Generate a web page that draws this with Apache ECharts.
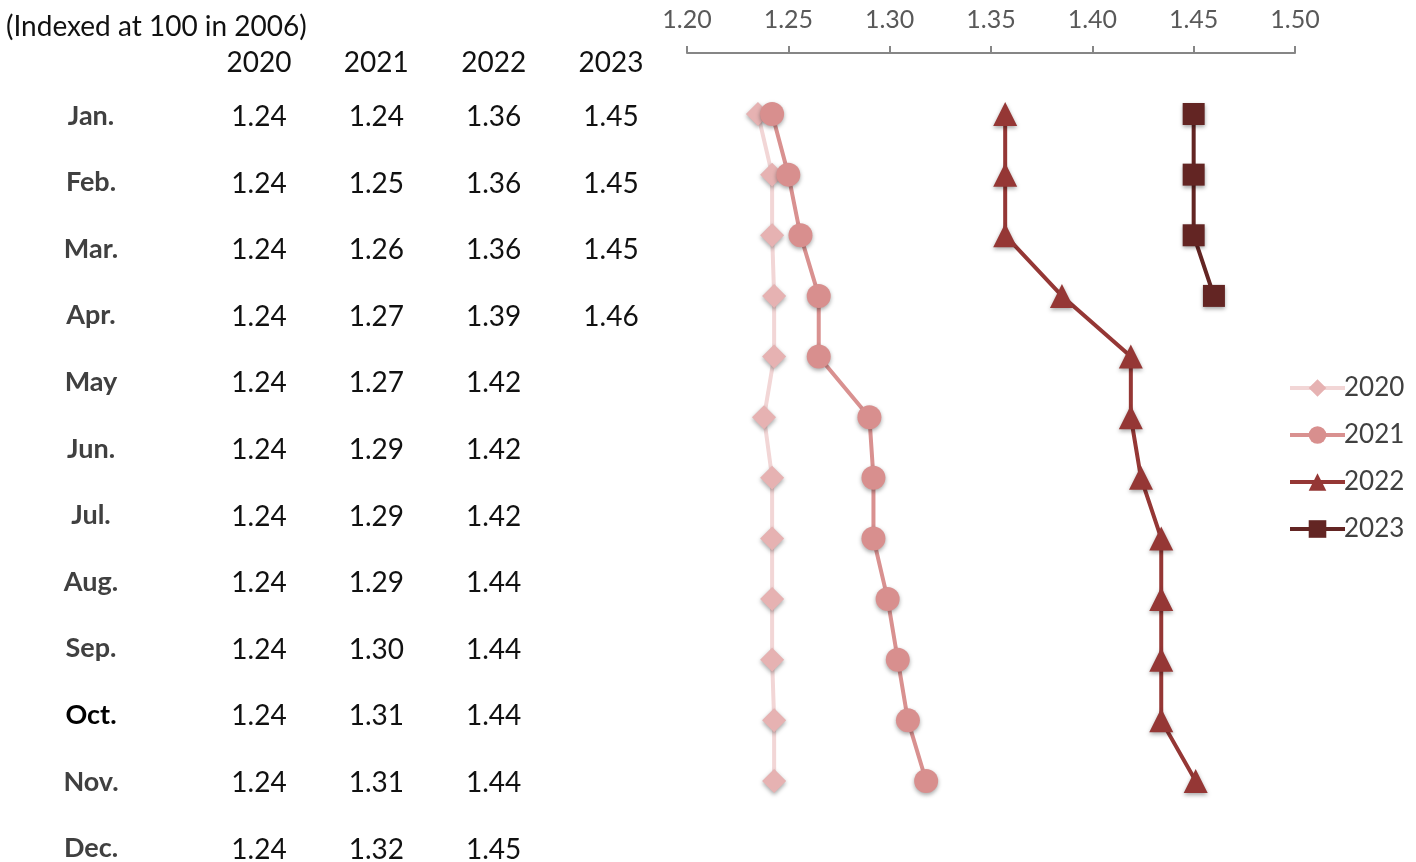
<!DOCTYPE html>
<html>
<head>
<meta charset="utf-8">
<script src="https://cdn.jsdelivr.net/npm/echarts@6/dist/echarts.min.js"></script>
<style>html,body{margin:0;padding:0;background:#fff;}#c{width:1416px;height:862px;}</style>
</head>
<body>
<div id="c"></div>
<script>
// ---- data ----
const months = ['Jan.','Feb.','Mar.','Apr.','May','Jun.','Jul.','Aug.','Sep.','Oct.','Nov.','Dec.'];
const years = ['2020','2021','2022','2023'];
const xTicks = [1.20, 1.25, 1.30, 1.35, 1.40, 1.45, 1.50];
const note = '(Indexed at 100 in 2006)';

// table values (as printed)
const tbl2020 = [1.24,1.24,1.24,1.24,1.24,1.24,1.24,1.24,1.24,1.24,1.24,1.24];
const tbl2021 = [1.24,1.25,1.26,1.27,1.27,1.29,1.29,1.29,1.30,1.31,1.31,1.32];
const tbl2022 = [1.36,1.36,1.36,1.39,1.42,1.42,1.42,1.44,1.44,1.44,1.44,1.45];
const tbl2023 = [1.45,1.45,1.45,1.46];

// plotted values
const s2020 = [1.235,1.242,1.242,1.243,1.243,1.238,1.242,1.242,1.242,1.242,1.243,1.243];
const s2021 = [1.242,1.250,1.256,1.265,1.265,1.290,1.292,1.292,1.299,1.304,1.309,1.318];
const s2022 = [1.357,1.357,1.357,1.385,1.419,1.419,1.424,1.434,1.434,1.434,1.434,1.451];
const s2023 = [1.450,1.450,1.450,1.460];

// ---- build ----
const FONT = 'Lato, "Open Sans", sans-serif';
const tables = [tbl2020, tbl2021, tbl2022, tbl2023];
const plots = [s2020, s2021, s2022, s2023];
const styles = [
  {line:'#f2d6d6', mark:'#e6b2b2', symbol:'diamond', size:24},
  {line:'#d99190', mark:'#d88f8e', symbol:'circle', size:24},
  {line:'#953735', mark:'#953735', symbol:'triangle', size:24},
  {line:'#632523', mark:'#632523', symbol:'rect', size:22}
];

const series = [];
plots.forEach((arr, k) => {
  const st = styles[k];
  series.push({
    name: years[k], type: 'line', xAxisIndex: 0, yAxisIndex: 0,
    data: arr.map((v, i) => [v, i]),
    symbol: st.symbol, symbolSize: st.size,
    lineStyle: {color: st.line, width: 4},
    itemStyle: {color: st.mark, shadowBlur: 4, shadowColor: 'rgba(0,0,0,0.35)', shadowOffsetY: 2},
    emphasis: {disabled: true},
    z: 3 + k
  });
});
tables.forEach((arr, k) => {
  series.push({
    name: 'tbl' + years[k], type: 'scatter', xAxisIndex: 1, yAxisIndex: 1,
    data: arr.map((v, i) => [k, i, v]),
    symbolSize: 1, itemStyle: {color: 'rgba(0,0,0,0)'},
    label: {show: true, position: 'inside', formatter: p => p.value[2].toFixed(2),
            fontFamily: FONT, fontSize: 28, color: '#111', opacity: 1, offset: [0, 1]},
    emphasis: {disabled: true}, silent: true
  });
});

const option = {
  backgroundColor: '#fff',
  animation: false,
  title: {text: note, left: 1, top: 8,
          textStyle: {fontFamily: FONT, fontSize: 28, fontWeight: 'normal', color: '#111'}},
  legend: {
    data: years, orient: 'vertical', left: 1283, top: 370,
    itemWidth: 55, itemHeight: 22, itemGap: 21,
    lineStyle: {width: 4},
    textStyle: {fontFamily: FONT, fontSize: 26, color: '#404040', padding: [0,0,0,-6]}
  },
  grid: [
    {left: 687, width: 608, top: 114, height: 667},
    {left: 259, width: 352, top: 116, height: 733}
  ],
  xAxis: [
    {type: 'value', gridIndex: 0, position: 'top', offset: 61,
     min: xTicks[0], max: xTicks[xTicks.length-1], interval: 0.05,
     axisLine: {show: true, lineStyle: {color: '#868686', width: 2}},
     axisTick: {show: true, length: 7, lineStyle: {color: '#868686', width: 2}},
     axisLabel: {margin: 21, fontFamily: FONT, fontSize: 25, color: '#595959',
                 formatter: v => v.toFixed(2)},
     splitLine: {show: false}},
    {type: 'category', gridIndex: 1, position: 'top', data: years, boundaryGap: false,
     axisLine: {show: false}, axisTick: {show: false},
     axisLabel: {margin: 39, fontFamily: FONT, fontSize: 28, color: '#111'}}
  ],
  yAxis: [
    {type: 'category', gridIndex: 0, data: months, inverse: true, boundaryGap: false, show: false},
    {type: 'category', gridIndex: 1, data: months, inverse: true, boundaryGap: false,
     axisLine: {show: false}, axisTick: {show: false},
     axisLabel: {margin: 168, align: 'center', fontFamily: FONT, fontSize: 27, fontWeight: 'bold',
                 color: '#404040',
                 formatter: v => v === 'Oct.' ? '{k|' + v + '}' : v,
                 rich: {k: {color: '#000', fontFamily: FONT, fontSize: 27, fontWeight: 'bold'}}}}
  ],
  series: series
};
const chart = echarts.init(document.getElementById('c'), null, {renderer: 'canvas'});
chart.setOption(option);
</script>
</body>
</html>
